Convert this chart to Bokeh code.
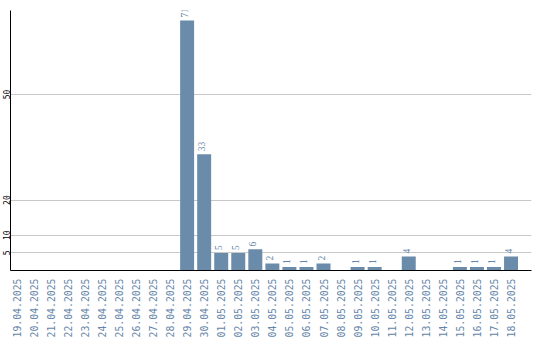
import math
from bokeh.plotting import figure
from bokeh.models import ColumnDataSource, FixedTicker, Range1d, LabelSet
from bokeh.embed import file_html
from bokeh.resources import INLINE

dates = ["19.04.2025", "20.04.2025", "21.04.2025", "22.04.2025", "23.04.2025",
         "24.04.2025", "25.04.2025", "26.04.2025", "27.04.2025", "28.04.2025",
         "29.04.2025", "30.04.2025", "01.05.2025", "02.05.2025", "03.05.2025",
         "04.05.2025", "05.05.2025", "06.05.2025", "07.05.2025", "08.05.2025",
         "09.05.2025", "10.05.2025", "11.05.2025", "12.05.2025", "13.05.2025",
         "14.05.2025", "15.05.2025", "16.05.2025", "17.05.2025", "18.05.2025"]
counts = [0, 0, 0, 0, 0, 0, 0, 0, 0, 0,
          71, 33, 5, 5, 6, 2, 1, 1, 2, 0,
          1, 1, 0, 4, 0, 0, 1, 1, 1, 4]
y_ticks = [5, 10, 20, 50]

BAR = "#6b8bab"
LAB = "#6585a8"
MONO = "DejaVu Sans Mono"
X0, X1 = -0.36, 30.2

xs = list(range(len(dates)))
nz = [i for i in xs if counts[i] > 0]
src = ColumnDataSource(dict(x=[xs[i] for i in nz], top=[counts[i] for i in nz],
                            lab=[str(counts[i]) for i in nz]))

p = figure(width=540, height=340, output_backend="svg", toolbar_location=None,
           x_range=Range1d(X0, X1), y_range=Range1d(0, max(counts) * 1.04),
           min_border_left=10, min_border_right=9, min_border_top=10, min_border_bottom=70)
p.outline_line_color = None
p.background_fill_color = "white"
p.border_fill_color = "white"

p.vbar(x="x", top="top", width=0.82, bottom=0, source=src, fill_color=BAR, line_color=None)
p.add_layout(LabelSet(x="x", y="top", text="lab", source=src, angle=math.pi / 2,
                      text_align="left", text_baseline="bottom", y_offset=3, x_offset=1,
                      text_font=MONO, text_font_size="9.5px", text_color=LAB))

p.xgrid.visible = False
p.ygrid.ticker = FixedTicker(ticks=y_ticks)
p.ygrid.grid_line_color = "#c8c8c8"

xa = p.xaxis[0]
xa.ticker = FixedTicker(ticks=xs)
xa.major_label_overrides = {i: d for i, d in zip(xs, dates)}
xa.major_label_orientation = math.pi / 2
xa.major_label_text_font = MONO
xa.major_label_text_font_size = "9.8px"
xa.major_label_text_color = LAB
xa.major_tick_out = 0
xa.major_tick_in = 0
xa.minor_tick_line_color = None
xa.major_label_standoff = 8
xa.axis_line_color = "black"

ya = p.yaxis[0]
ya.ticker = FixedTicker(ticks=y_ticks)
ya.major_label_orientation = "parallel"
ya.major_label_text_font = MONO
ya.major_label_text_font_size = "8px"
ya.major_label_text_color = "black"
ya.major_tick_out = 0
ya.major_tick_in = 0
ya.minor_tick_line_color = None
ya.major_label_standoff = 0
ya.axis_line_color = "black"

open("out.html", "w").write(file_html(p, INLINE))
